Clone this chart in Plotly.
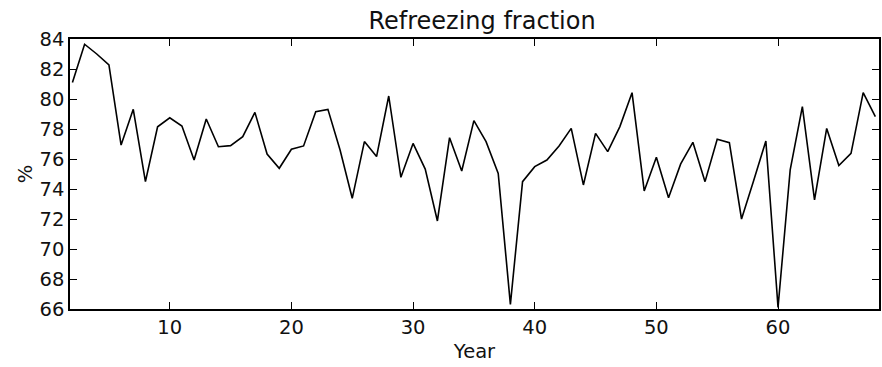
import plotly.graph_objects as go

years = list(range(2, 69))
refreeze = [81.1, 83.65, 83.0, 82.27, 76.93, 79.31, 74.49, 78.15, 78.75, 78.2,
            75.93, 78.67, 76.82, 76.89, 77.49, 79.11, 76.33, 75.38, 76.65, 76.87,
            79.15, 79.31, 76.6, 73.38, 77.16, 76.16, 80.2, 74.78, 77.04, 75.33,
            71.87, 77.42, 75.2, 78.56, 77.16, 75.04, 66.31, 74.49, 75.49, 75.93,
            76.87, 78.04, 74.27, 77.71, 76.49, 78.16, 80.42, 73.87, 76.11, 73.42,
            75.67, 77.11, 74.49, 77.31, 77.09, 72.0, 74.56, 77.2, 66.11, 75.27,
            79.49, 73.27, 78.04, 75.56, 76.38, 80.42, 78.82]

x_ticks = [10, 20, 30, 40, 50, 60]
y_ticks = [66, 68, 70, 72, 74, 76, 78, 80, 82, 84]

fig = go.Figure()
fig.add_trace(go.Scatter(x=years, y=refreeze, mode="lines",
                         line=dict(color="black", width=1.6), showlegend=False))

axis_common = dict(showline=True, linecolor="black", linewidth=1.6, mirror="allticks",
                   ticks="inside", ticklen=7, tickwidth=1.3, tickcolor="black",
                   showgrid=False, zeroline=False,
                   tickfont=dict(family="DejaVu Sans", size=19.5, color="#111"))

fig.update_layout(
    width=882, height=367,
    margin=dict(l=70, r=1, t=39, b=58),
    plot_bgcolor="white", paper_bgcolor="white",
    title=dict(text="Refreezing fraction", x=0.5465, xanchor="center", y=0.943, yanchor="middle",
               font=dict(family="DejaVu Sans", size=24, color="#111")),
    xaxis=dict(range=[1.8, 68.3], tickvals=x_ticks,
               title=dict(text="Year", font=dict(family="DejaVu Sans", size=19.5, color="#111"), standoff=6),
               **axis_common),
    yaxis=dict(range=[66, 84], tickvals=y_ticks,
               title=dict(text="%", font=dict(family="DejaVu Sans", size=19.5, color="#111"), standoff=2),
               **axis_common),
)

fig.write_html("out.html")
